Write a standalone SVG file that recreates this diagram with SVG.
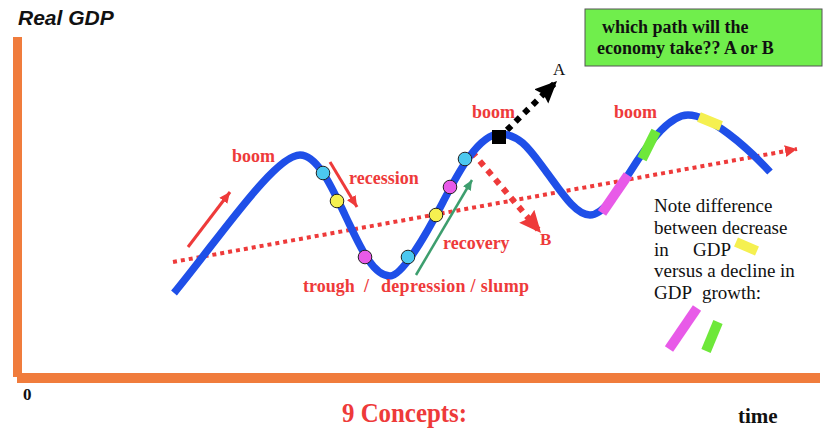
<svg xmlns="http://www.w3.org/2000/svg" width="825" height="429" viewBox="0 0 825 429">
<style>
.serif{font-family:"Liberation Serif","Times New Roman",serif}
.lbl{font-family:"Liberation Serif","Times New Roman",serif;font-weight:bold;font-size:18px;fill:#ee3a3a}
.note{font-family:"Liberation Serif","Times New Roman",serif;font-size:19px;fill:#111}
.dot{stroke:#222;stroke-width:1}
.bar{stroke-width:10;stroke-linecap:butt;fill:none}
</style>
<defs>
<marker id="redHead" markerUnits="userSpaceOnUse" markerWidth="14" markerHeight="14" refX="12" refY="6" orient="auto"><path d="M0,0 L12,6 L0,12 z" fill="#ee3a3a"/></marker>
<marker id="redBig" markerUnits="userSpaceOnUse" markerWidth="26" markerHeight="26" refX="22" refY="10" orient="auto"><path d="M0,0 L22,10 L0,20 L3,10 z" fill="#ee3a3a"/></marker>
<marker id="blackBig" markerUnits="userSpaceOnUse" markerWidth="26" markerHeight="26" refX="22" refY="10" orient="auto"><path d="M0,0 L22,10 L0,20 L3,10 z" fill="#000"/></marker>
<marker id="redThin" markerUnits="userSpaceOnUse" markerWidth="14" markerHeight="14" refX="11" refY="5" orient="auto"><path d="M0,0 L11,5 L0,10 z" fill="#ee3a3a"/></marker>
<marker id="greenThin" markerUnits="userSpaceOnUse" markerWidth="14" markerHeight="14" refX="10" refY="4.5" orient="auto"><path d="M0,0 L10,4.5 L0,9 z" fill="#3d9e6e"/></marker>
</defs>

<g id="axes">
<rect x="13" y="37" width="9" height="340" fill="#f07c3c"/>
<rect x="17" y="373" width="803" height="10" fill="#f07c3c"/>
<text x="18" y="25" font-family="'Liberation Sans',Arial,sans-serif" font-weight="bold" font-style="italic" font-size="21" fill="#111">Real GDP</text>
<text x="23" y="400" class="serif" font-weight="bold" font-size="17" fill="#111">0</text>
<text x="738" y="423" class="serif" font-weight="bold" font-size="21" fill="#111">time</text>
<text x="342" y="422" class="serif" font-weight="bold" font-size="28" fill="#ee3a3a" textLength="125" lengthAdjust="spacingAndGlyphs">9 Concepts:</text>
</g>

<g id="question-box">
<rect x="585" y="9" width="237" height="57" fill="#70ee4c" stroke="#555" stroke-width="1"/>
<text x="602" y="33" class="serif" font-weight="bold" font-size="18" fill="#111">which path will the</text>
<text x="597" y="54" class="serif" font-weight="bold" font-size="18" fill="#111">economy take?? A or B</text>
</g>

<g id="connectors">
<line x1="173" y1="262" x2="797" y2="149" stroke="#ee3a3a" stroke-width="4" stroke-dasharray="4 4" marker-end="url(#redHead)"/>
<line x1="472" y1="152" x2="541" y2="233" stroke="#ee3a3a" stroke-width="6" stroke-dasharray="6 6" marker-end="url(#redBig)"/>
<line x1="507" y1="130" x2="557" y2="81" stroke="#000" stroke-width="6" stroke-dasharray="6 6" marker-end="url(#blackBig)"/>
<line x1="188" y1="247" x2="230" y2="192" stroke="#ee3a3a" stroke-width="3" marker-end="url(#redThin)"/>
<line x1="330" y1="162" x2="357" y2="207" stroke="#ee3a3a" stroke-width="3" marker-end="url(#redThin)"/>
<line x1="416" y1="275" x2="472" y2="180" stroke="#3d9e6e" stroke-width="2.5" marker-end="url(#greenThin)"/>
</g>

<g id="gdp-curve">
<path d="M174,293 C220,237 275,155 300,155 C318,155 333,190 345,215 C359,244 372,276 390,276 C402,276 426,235 443,202 C457,175 478,134 500,134 C520,134 530,150 545,170 C560,190 575,215 590,215 C603,215 617,193 630,172 C645,148 668,115 688,115 C710,115 745,145 770,172" fill="none" stroke="#1f4fe8" stroke-width="7.5" stroke-linecap="butt"/>
<line class="bar" x1="602" y1="213" x2="628" y2="175" stroke="#e85ae8"/>
<line class="bar" x1="642" y1="159" x2="656" y2="131" stroke="#6ee83a"/>
<line class="bar" x1="699" y1="117" x2="721" y2="126" stroke="#f5f050"/>
<rect x="492" y="130" width="14" height="14" fill="#000"/>
</g>

<g id="dots">
<circle class="dot" cx="323" cy="173" r="6.8" fill="#4cc8f0"/>
<circle class="dot" cx="337" cy="201" r="6.8" fill="#f5f050"/>
<circle class="dot" cx="365" cy="257" r="6.8" fill="#e85ae8"/>
<circle class="dot" cx="408" cy="257" r="6.8" fill="#4cc8f0"/>
<circle class="dot" cx="436" cy="215" r="6.8" fill="#f5f050"/>
<circle class="dot" cx="450" cy="187" r="6.8" fill="#e85ae8"/>
<circle class="dot" cx="465" cy="159" r="6.8" fill="#4cc8f0"/>
</g>

<g id="labels">
<text x="232" y="162" class="lbl">boom</text>
<text x="349" y="184" class="lbl">recession</text>
<text x="443" y="249" class="lbl">recovery</text>
<text x="472" y="118" class="lbl">boom</text>
<text x="614" y="118" class="lbl">boom</text>
<text x="303" y="292" class="lbl">trough</text>
<text x="364" y="292" class="lbl">/</text>
<text x="381" y="292" class="lbl" textLength="148" lengthAdjust="spacing">depression / slump</text>
<text x="553" y="75" class="serif" font-size="17" fill="#111">A</text>
<text x="540" y="245" class="serif" font-weight="bold" font-size="17" fill="#ee3a3a">B</text>
</g>

<g id="note">
<text x="654" y="212" class="note">Note difference</text>
<text x="654" y="234" class="note">between decrease</text>
<text x="654" y="256" class="note">in</text>
<text x="693" y="256" class="note">GDP</text>
<text x="654" y="277" class="note">versus a decline in</text>
<text x="654" y="299" class="note">GDP</text>
<text x="702" y="299" class="note">growth:</text>
<line class="bar" x1="736" y1="242" x2="757" y2="251" stroke="#f5f050" stroke-width="9"/>
<line class="bar" x1="669" y1="349" x2="697" y2="308" stroke="#e85ae8"/>
<line class="bar" x1="706" y1="351" x2="718" y2="322" stroke="#6ee83a"/>
</g>
</svg>
